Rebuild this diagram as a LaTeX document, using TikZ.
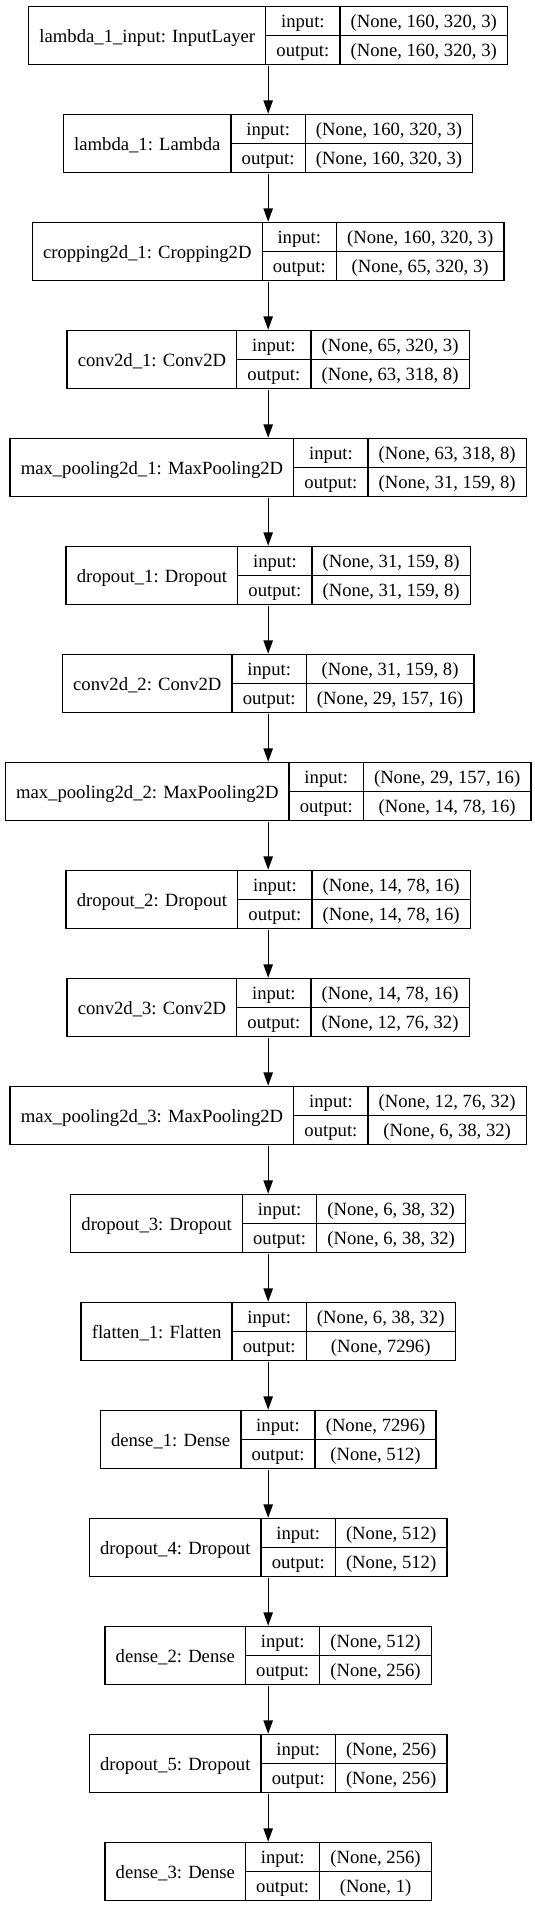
\documentclass[tikz,border=0pt]{standalone}
\usepackage{fontspec}
\setmainfont{Liberation Serif}
\usetikzlibrary{arrows.meta,fit}
\newlength\kwL \newlength\kwI \newlength\kwV \newlength\kwT \newlength\kwTot
\newlength\kxl \newlength\kxm \newlength\kxr \newlength\kyt \newlength\kym
\newcommand{\kfont}{\fontsize{14bp}{16.8bp}\selectfont}
\tikzset{
  cellbase/.style={draw=black, line width=1bp, inner sep=0pt, anchor=north west, font=\kfont, text height=10.5bp, text depth=0.5bp},
  namecell/.style={cellbase, minimum height=43.5bp},
  rowcell/.style={cellbase, minimum height=21.75bp},
  layerbox/.style={inner sep=0pt, draw=none},
  flow/.style={draw=black, line width=1bp, -{Triangle[length=10bp,width=7bp]}},
}
% measure outside the picture: id, label, input shape, output shape
\newcommand{\kMeasure}[4]{%
  \settowidth{\kwL}{\kfont #2}\addtolength{\kwL}{16bp}%
  \settowidth{\kwI}{\kfont output:}\addtolength{\kwI}{16bp}%
  \settowidth{\kwV}{\kfont #3}\settowidth{\kwT}{\kfont #4}%
  \ifdim\kwT>\kwV \setlength{\kwV}{\kwT}\fi
  \addtolength{\kwV}{16bp}%
  \expandafter\xdef\csname kwl#1\endcsname{\the\kwL}%
  \expandafter\xdef\csname kwi#1\endcsname{\the\kwI}%
  \expandafter\xdef\csname kwv#1\endcsname{\the\kwV}%
  \expandafter\gdef\csname ktl#1\endcsname{#2}%
  \expandafter\gdef\csname kti#1\endcsname{#3}%
  \expandafter\gdef\csname kto#1\endcsname{#4}%
}
% draw inside the picture: id, row index
\newcommand{\kLayer}[2]{%
  \setlength{\kwL}{\csname kwl#1\endcsname}%
  \setlength{\kwI}{\csname kwi#1\endcsname}%
  \setlength{\kwV}{\csname kwv#1\endcsname}%
  \setlength{\kwTot}{\dimexpr\kwL+\kwI+\kwV\relax}%
  \setlength{\kxl}{\dimexpr 200.625bp-\kwTot/2\relax}%
  \setlength{\kxm}{\dimexpr\kxl+\kwL\relax}%
  \setlength{\kxr}{\dimexpr\kxm+\kwI\relax}%
  \setlength{\kyt}{\dimexpr -4.5bp-81bp*#2\relax}%
  \setlength{\kym}{\dimexpr\kyt-21.75bp\relax}%
  \node[namecell, minimum width=\the\kwL] (#1-n) at (\the\kxl,\the\kyt) {\csname ktl#1\endcsname};
  \node[rowcell, minimum width=\the\kwI] (#1-i) at (\the\kxm,\the\kyt) {input:};
  \node[rowcell, minimum width=\the\kwI] (#1-o) at (\the\kxm,\the\kym) {output:};
  \node[rowcell, minimum width=\the\kwV] (#1-vi) at (\the\kxr,\the\kyt) {\csname kti#1\endcsname};
  \node[rowcell, minimum width=\the\kwV] (#1-vo) at (\the\kxr,\the\kym) {\csname kto#1\endcsname};
  \node[layerbox, fit=(#1-n)(#1-vo)] (#1) {};
}
\begin{document}
\kMeasure{L0}{lambda\_1\_input: InputLayer}{(None, 160, 320, 3)}{(None, 160, 320, 3)}%
\kMeasure{L1}{lambda\_1: Lambda}{(None, 160, 320, 3)}{(None, 160, 320, 3)}%
\kMeasure{L2}{cropping2d\_1: Cropping2D}{(None, 160, 320, 3)}{(None, 65, 320, 3)}%
\kMeasure{L3}{conv2d\_1: Conv2D}{(None, 65, 320, 3)}{(None, 63, 318, 8)}%
\kMeasure{L4}{max\_pooling2d\_1: MaxPooling2D}{(None, 63, 318, 8)}{(None, 31, 159, 8)}%
\kMeasure{L5}{dropout\_1: Dropout}{(None, 31, 159, 8)}{(None, 31, 159, 8)}%
\kMeasure{L6}{conv2d\_2: Conv2D}{(None, 31, 159, 8)}{(None, 29, 157, 16)}%
\kMeasure{L7}{max\_pooling2d\_2: MaxPooling2D}{(None, 29, 157, 16)}{(None, 14, 78, 16)}%
\kMeasure{L8}{dropout\_2: Dropout}{(None, 14, 78, 16)}{(None, 14, 78, 16)}%
\kMeasure{L9}{conv2d\_3: Conv2D}{(None, 14, 78, 16)}{(None, 12, 76, 32)}%
\kMeasure{L10}{max\_pooling2d\_3: MaxPooling2D}{(None, 12, 76, 32)}{(None, 6, 38, 32)}%
\kMeasure{L11}{dropout\_3: Dropout}{(None, 6, 38, 32)}{(None, 6, 38, 32)}%
\kMeasure{L12}{flatten\_1: Flatten}{(None, 6, 38, 32)}{(None, 7296)}%
\kMeasure{L13}{dense\_1: Dense}{(None, 7296)}{(None, 512)}%
\kMeasure{L14}{dropout\_4: Dropout}{(None, 512)}{(None, 512)}%
\kMeasure{L15}{dense\_2: Dense}{(None, 512)}{(None, 256)}%
\kMeasure{L16}{dropout\_5: Dropout}{(None, 256)}{(None, 256)}%
\kMeasure{L17}{dense\_3: Dense}{(None, 256)}{(None, 1)}%
\begin{tikzpicture}
\useasboundingbox (0,0) rectangle (401.25bp,-1430.25bp);
\kLayer{L0}{0}
\kLayer{L1}{1}
\kLayer{L2}{2}
\kLayer{L3}{3}
\kLayer{L4}{4}
\kLayer{L5}{5}
\kLayer{L6}{6}
\kLayer{L7}{7}
\kLayer{L8}{8}
\kLayer{L9}{9}
\kLayer{L10}{10}
\kLayer{L11}{11}
\kLayer{L12}{12}
\kLayer{L13}{13}
\kLayer{L14}{14}
\kLayer{L15}{15}
\kLayer{L16}{16}
\kLayer{L17}{17}
\foreach \a/\b in {L0/L1,L1/L2,L2/L3,L3/L4,L4/L5,L5/L6,L6/L7,L7/L8,L8/L9,L9/L10,L10/L11,L11/L12,L12/L13,L13/L14,L14/L15,L15/L16,L16/L17}
  \draw[flow] (\a.south) -- (\b.north);
\end{tikzpicture}
\end{document}
